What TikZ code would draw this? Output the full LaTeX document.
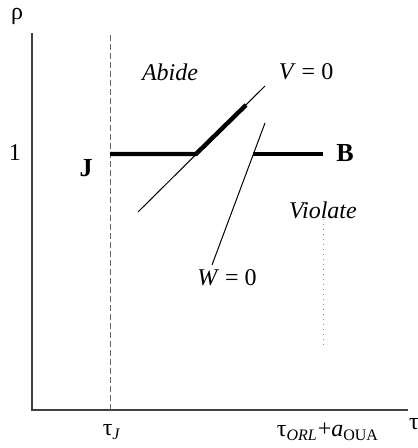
\documentclass[tikz,border=0pt]{standalone}
\usepackage{fontspec}
\setmainfont{Liberation Serif}[ItalicFont={Liberation Serif Italic}, BoldFont={Liberation Serif Bold}]
\begin{document}
\begin{tikzpicture}[x=0.5pt, y=-0.5pt, line width=0.5pt,
		axis/.style={black!75, line width=0.6pt},
		guide/.style={black!60, dashed, dash pattern=on 3pt off 1.5pt, line width=0.4pt},
		faint/.style={black!45, dotted, line width=0.5pt},
		bound/.style={line width=0.5pt},
		path/.style={line width=2.2pt},
		lbl/.style={font=\fontsize{12}{14}\selectfont, inner sep=1pt}]
		\useasboundingbox (0,0) rectangle (417,448);
		% ---- axes ----
		\coordinate (origin) at (32,410);
		\coordinate (ytop) at (32,33);
		\coordinate (xend) at (408,410);
		\draw[axis] (ytop) -- (origin) -- (xend);
		\node[lbl] (rho) at (17,16) {ρ};
		\node[lbl] (tau) at (414,424) {τ};
		\node[lbl] (one) at (15,153) {1};
		% ---- tau_J guide ----
		\coordinate (jtop) at (110,35);
		\coordinate (jbot) at (110,410);
		\draw[guide] (jtop) -- (jbot);
		\node[lbl] (tauJ) at (112,432) {τ\textsubscript{\textit{J}}};
		\node[lbl] (tauO) at (328,432) {τ\textsubscript{\textit{ORL}}+\textit{a}\textsubscript{OUA}};
		% ---- faint guide below B ----
		\coordinate (otop) at (323,214);
		\coordinate (obot) at (323,346);
		\draw[faint] (otop) -- (obot);
		% ---- V = 0 and W = 0 ----
		\coordinate (vlow) at (138,212);
		\coordinate (vhigh) at (265,86);
		\coordinate (vknee) at (196,154);
		\coordinate (vbend) at (246,105);
		\draw[bound] (vlow) -- (vhigh);
		\coordinate (whigh) at (265,123);
		\coordinate (wlow) at (212,265);
		\coordinate (wknee) at (253,154);
		\draw[bound] (whigh) -- (wlow);
		\node[lbl] (V) at (306,72) {\textit{V} = 0};
		\node[lbl] (W) at (227,278) {\textit{W} = 0};
		% ---- equilibrium path ----
		\coordinate (jstart) at (110,154);
		\coordinate (bend) at (323,154);
		\draw[path] (jstart) -- (vknee) -- (vbend);
		\draw[path] (wknee) -- (bend);
		\node[lbl, font=\fontsize{13}{15}\selectfont\bfseries] (J) at (86,168) {J};
		\node[lbl, font=\fontsize{13}{15}\selectfont\bfseries] (B) at (345,153) {B};
		% ---- regions ----
		\node[lbl] (abide) at (170,72) {\textit{Abide}};
		\node[lbl] (violate) at (323,210) {\textit{Violate}};
	\end{tikzpicture}
\end{document}
